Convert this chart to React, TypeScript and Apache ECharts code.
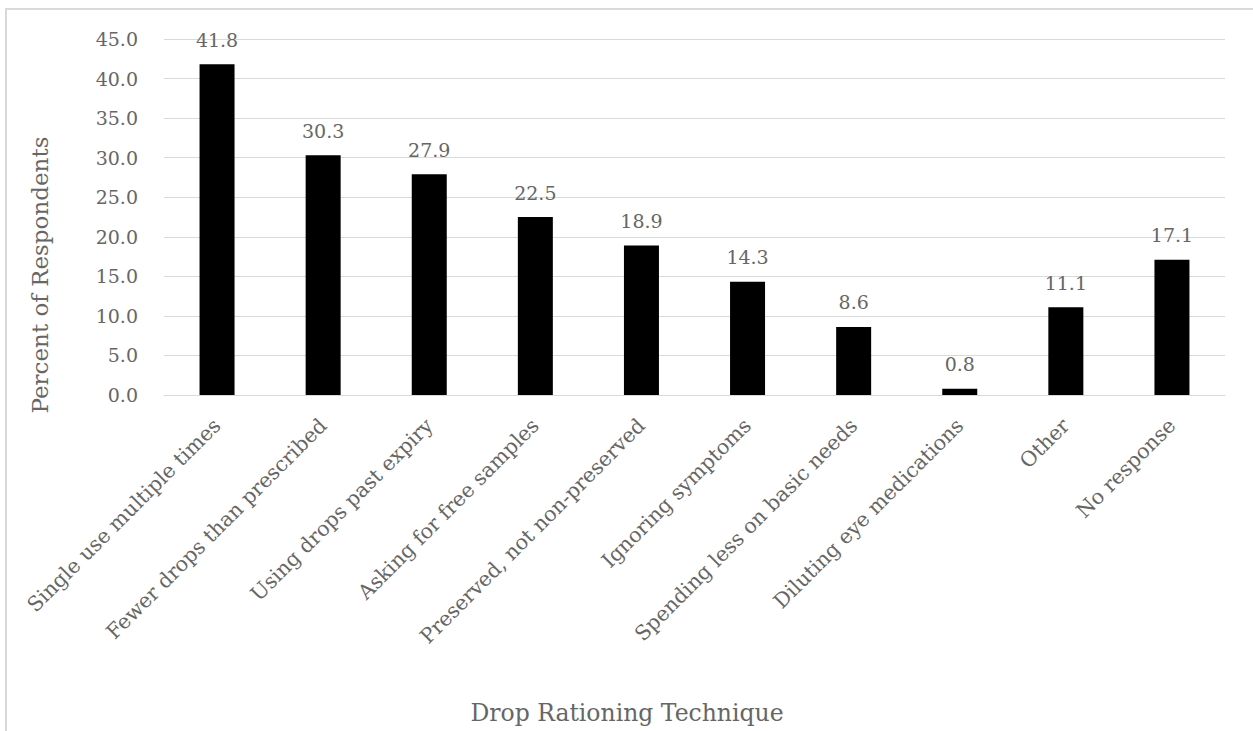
import React, { useEffect, useRef } from "react";
import * as echarts from "echarts";

const categories = [
  "Single use multiple times",
  "Fewer drops than prescribed",
  "Using drops past expiry",
  "Asking for free samples",
  "Preserved, not non-preserved",
  "Ignoring symptoms",
  "Spending less on basic needs",
  "Diluting eye medications",
  "Other",
  "No response",
];

const percentValues = [41.8, 30.3, 27.9, 22.5, 18.9, 14.3, 8.6, 0.8, 11.1, 17.1];

const yAxisTitle = "Percent of Respondents";
const xAxisTitle = "Drop Rationing Technique";

const FONT = "'DejaVu Serif', serif";
const TEXT = "#666666";
const GRID = "#d9d9d9";

export default function App() {
  const ref = useRef<HTMLDivElement>(null);

  useEffect(() => {
    if (!ref.current) return;
    const chart = echarts.init(ref.current, undefined, { renderer: "svg" });
    chart.setOption({
      animation: false,
      backgroundColor: "#ffffff",
      textStyle: { fontFamily: FONT },
      graphic: [
        {
          type: "rect",
          shape: { x: 6, y: 9, width: 1300, height: 800 },
          style: { fill: "none", stroke: GRID, lineWidth: 2 },
          silent: true,
        },
        {
          type: "text",
          x: 40,
          y: 275,
          rotation: Math.PI / 2,
          style: {
            text: yAxisTitle,
            fill: TEXT,
            font: `23px ${FONT}`,
            align: "center",
            verticalAlign: "middle",
          },
          silent: true,
        },
        {
          type: "text",
          x: 627,
          y: 713,
          style: {
            text: xAxisTitle,
            fill: TEXT,
            font: `23.5px ${FONT}`,
            align: "center",
            verticalAlign: "middle",
          },
          silent: true,
        },
      ],
      grid: { left: 164, right: 28, top: 39, bottom: 336, containLabel: false },
      xAxis: {
        type: "category",
        data: categories,
        axisLine: { show: true, lineStyle: { color: GRID, width: 1 } },
        axisTick: { show: false },
        axisLabel: {
          rotate: 45,
          interval: 0,
          margin: 27,
          color: TEXT,
          fontFamily: FONT,
          fontSize: 20.5,
        },
      },
      yAxis: {
        type: "value",
        min: 0,
        max: 45,
        interval: 5,
        axisLine: { show: false },
        axisTick: { show: false },
        splitLine: { lineStyle: { color: GRID, width: 1 } },
        axisLabel: {
          margin: 26,
          color: TEXT,
          fontFamily: FONT,
          fontSize: 19,
          formatter: (v: number) => v.toFixed(1),
        },
      },
      series: [
        {
          type: "bar",
          data: percentValues,
          barWidth: 35,
          itemStyle: { color: "#000000" },
          label: {
            show: true,
            position: "top",
            distance: 15,
            color: TEXT,
            fontFamily: FONT,
            fontSize: 19,
            formatter: (p: any) => Number(p.value).toFixed(1),
          },
        },
      ],
    });
    return () => chart.dispose();
  }, []);

  return (
    <div
      ref={ref}
      style={{ position: "absolute", left: 0, top: 0, width: 1253, height: 731 }}
    />
  );
}
